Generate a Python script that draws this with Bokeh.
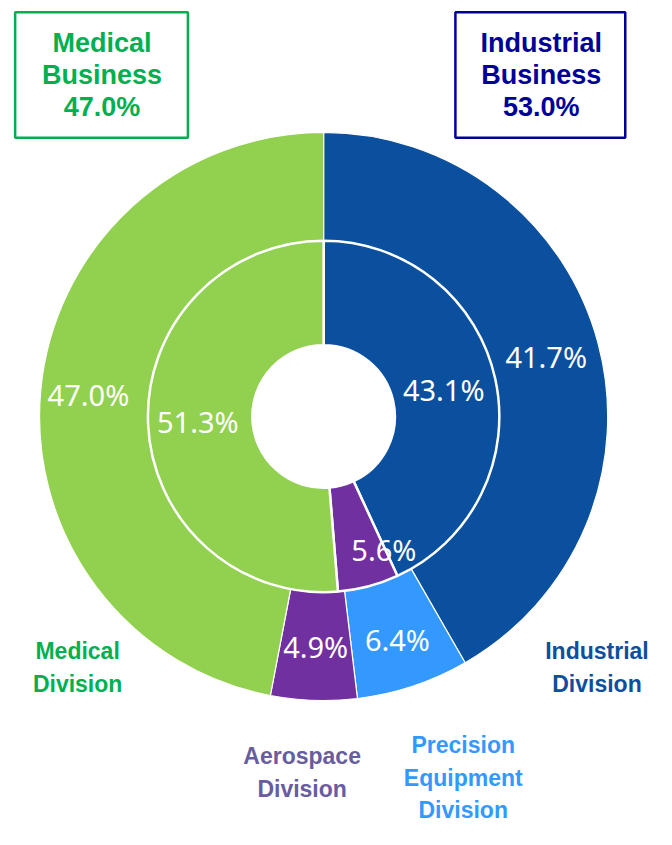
import numpy as np
from bokeh.plotting import figure
from bokeh.models import Range1d, BoxAnnotation, ColumnDataSource
from bokeh.core.properties import value
from bokeh.embed import file_html
from bokeh.resources import INLINE

# ---- data ----
outer_names = ["Industrial", "Precision Equipment", "Aerospace", "Medical"]
outer_values = [41.7, 6.4, 4.9, 47.0]
outer_colors = ["#0B509E", "#3399FF", "#7030A0", "#92D050"]

inner_names = ["Industrial", "Aerospace", "Medical"]
inner_values = [43.1, 5.6, 51.3]
inner_colors = ["#0B509E", "#7030A0", "#92D050"]

business_names = ["Medical\nBusiness", "Industrial\nBusiness"]
business_values = [47.0, 53.0]

# ---- layout (data units = reference pixels, y flipped) ----
W, H = 656, 829
RW, RH = 672, 845
CX, CY = 331, RH - 424
R_HOLE, R_MID, R_OUT = 73, 180, 291

p = figure(width=W, height=H, output_backend="svg", toolbar_location=None,
           x_range=Range1d(0, RW), y_range=Range1d(0, RH),
           min_border=0)
p.axis.visible = False
p.grid.visible = False
p.outline_line_color = None


def ring(values, colors, r0, r1, lw):
    vals = np.array(values, dtype=float)
    cum = np.concatenate([[0], np.cumsum(vals)]) / vals.sum()
    start = np.pi / 2 - cum[1:] * 2 * np.pi
    end = np.pi / 2 - cum[:-1] * 2 * np.pi
    mid = (start + end) / 2
    src = ColumnDataSource(dict(x=[CX] * len(vals), y=[CY] * len(vals),
                                start=start, end=end, color=colors))
    p.annular_wedge(x="x", y="y", inner_radius=r0, outer_radius=r1,
                    start_angle="start", end_angle="end", fill_color="color",
                    line_color="white", line_width=lw, source=src)
    return mid


mid_out = ring(outer_values, outer_colors, R_MID, R_OUT, 1.2)
mid_in = ring(inner_values, inner_colors, R_HOLE, R_MID, 2.5)

# percentage labels
out_r = [236, 240, 235, 242]
out_dx = [0, 0, 0, 0]
in_r = [126, 140, 129]
in_dx = [0, 26, 0]

lx = [CX + r * np.cos(a) + d for r, a, d in zip(out_r, mid_out, out_dx)] + \
     [CX + r * np.cos(a) + d for r, a, d in zip(in_r, mid_in, in_dx)]
ly = [CY + r * np.sin(a) for r, a in zip(out_r, mid_out)] + \
     [CY + r * np.sin(a) for r, a in zip(in_r, mid_in)]
lt = [f"{v:.1f}%" for v in outer_values] + [f"{v:.1f}%" for v in inner_values]
p.text(x=lx, y=ly, text=lt, text_color="white", text_font=value("Noto Sans"),
       text_font_size="29px", text_align="center", text_baseline="middle")

# business boxes
box_colors = ["#00B050", "#000099"]
box_lr = [(15, 192), (466, 640)]
for (l, r), c in zip(box_lr, box_colors):
    p.add_layout(BoxAnnotation(left=l, right=r, bottom=RH - 140, top=RH - 12,
                               fill_color=None, fill_alpha=0, line_color=c,
                               line_alpha=1, line_width=2.5))
bx = [104, 554]
bt = [f"{n}\n{v:.1f}%" for n, v in zip(business_names, business_values)]
p.text(x=bx, y=[RH - 76] * 2, text=bt, text_color=box_colors,
       text_font=value("Liberation Sans"), text_font_style="bold",
       text_font_size="27px", text_align="center", text_baseline="middle",
       text_line_height=1.08)

# division labels
div_text = ["Industrial\nDivision", "Precision\nEquipment\nDivision",
            "Aerospace\nDivision", "Medical\nDivision"]
div_x = [611, 474, 309, 79]
div_y = [RH - 680, RH - 792, RH - 787, RH - 680]
div_colors = ["#0D4F9E", "#3399FF", "#675DA0", "#00B050"]
p.text(x=div_x, y=div_y, text=div_text, text_color=div_colors,
       text_font=value("Liberation Sans"), text_font_style="bold",
       text_font_size="23px", text_align="center", text_baseline="middle",
       text_line_height=1.25)

open("out.html", "w").write(file_html(p, INLINE))
